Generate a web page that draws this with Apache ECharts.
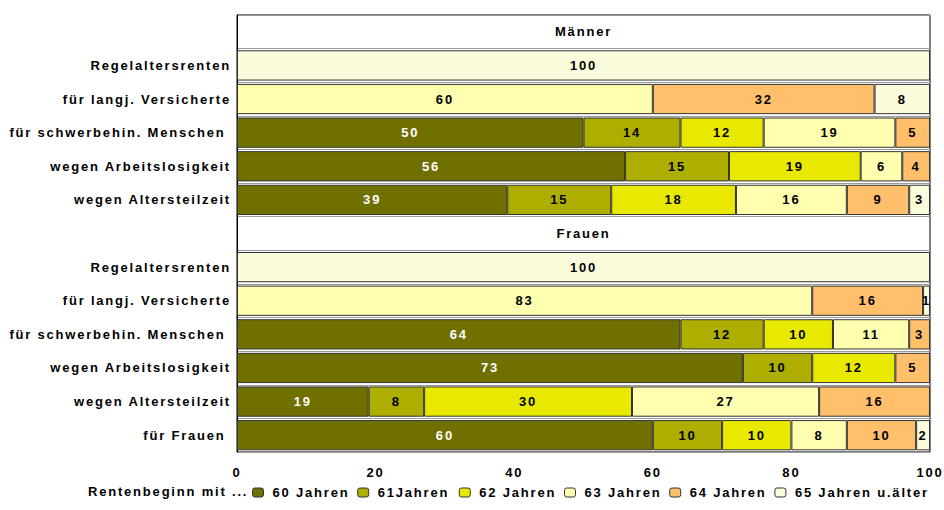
<!DOCTYPE html>
<html><head><meta charset="utf-8">
<script src="https://cdn.jsdelivr.net/npm/echarts@6/dist/echarts.min.js"></script>
<style>html,body{margin:0;padding:0;background:#fff}#c{width:944px;height:510px}#c text{letter-spacing:1.8px}</style>
</head><body><div id="c"></div>
<script>
// rows top to bottom
const categories = ['', 'Regelaltersrenten', 'für langj. Versicherte', 'für schwerbehin. Menschen ', 'wegen Arbeitslosigkeit', 'wegen Altersteilzeit',
  ' ', 'Regelaltersrenten', 'für langj. Versicherte', 'für schwerbehin. Menschen ', 'wegen Arbeitslosigkeit', 'wegen Altersteilzeit', 'für Frauen '];
const headers = ['Männer', '', '', '', '', '', 'Frauen', '', '', '', '', '', ''];
const headerValues = [100, '-', '-', '-', '-', '-', 100, '-', '-', '-', '-', '-', '-'];
const seriesNames = ['60 Jahren', '61Jahren', '62 Jahren', '63 Jahren', '64 Jahren', '65 Jahren u.älter'];
const j60 = ['-', '-', '-', 50, 56, 39, '-', '-', '-', 64, 73, 19, 60];
const j61 = ['-', '-', '-', 14, 15, 15, '-', '-', '-', 12, 10, 8, 10];
const j62 = ['-', '-', '-', 12, 19, 18, '-', '-', '-', 10, 12, 30, 10];
const j63 = ['-', '-', 60, 19, 6, 16, '-', '-', 83, 11, '-', 27, 8];
const j64 = ['-', '-', 32, 5, 4, 9, '-', '-', 16, 3, 5, 16, 10];
const j65 = ['-', 100, 8, '-', '-', 3, '-', 100, 1, '-', '-', '-', 2];
const seriesValues = [j60, j61, j62, j63, j64, j65];
const colors = ['#707000', '#AEAE00', '#E9E900', '#FFFFB0', '#FFBF6B', '#FAFCDC'];
const labelColors = ['#fff', '#000', '#000', '#000', '#000', '#000'];

const font = 'Liberation Sans, Arial, sans-serif';
const chart = echarts.init(document.getElementById('c'), null, {renderer: 'svg'});

const series = seriesValues.map((vals, i) => ({
  name: seriesNames[i], type: 'bar', stack: 'total', data: vals,
  barCategoryGap: '10%',
  itemStyle: {color: colors[i], borderColor: '#333', borderWidth: 1},
  label: {show: true, position: 'inside', color: labelColors[i], fontFamily: font, fontWeight: 'bold', fontSize: 13},
  emphasis: {disabled: true}
}));
series.push({
  name: 'header', type: 'bar', stack: 'total', data: headerValues,
  itemStyle: {color: 'rgba(0,0,0,0)', borderWidth: 0},
  label: {show: true, position: 'inside', color: '#000', fontFamily: font, fontWeight: 'bold', fontSize: 13,
    formatter: p => headers[p.dataIndex]},
  emphasis: {disabled: true}
});

chart.setOption({
  animation: false,
  backgroundColor: '#fff',
  title: {text: 'Rentenbeginn mit ...', left: 88, top: 485, padding: 0,
    textStyle: {fontFamily: font, fontWeight: 'bold', fontSize: 13, color: '#000'}},
  legend: {
    data: seriesNames, left: 252, top: 486, padding: 0,
    itemWidth: 11, itemHeight: 9, itemGap: 24,
    itemStyle: {borderColor: '#333', borderWidth: 1},
    textStyle: {fontFamily: font, fontWeight: 'bold', fontSize: 13, color: '#000', padding: [0, 0, 0, 4]}
  },
  grid: {left: 237, right: 14, top: 15, bottom: 58, show: true, borderColor: '#000', borderWidth: 1, backgroundColor: '#fff'},
  xAxis: {
    type: 'value', min: 0, max: 100, interval: 20,
    axisLine: {show: false}, axisTick: {show: false}, splitLine: {show: false},
    axisLabel: {fontFamily: font, fontWeight: 'bold', fontSize: 13, color: '#000', margin: 14}
  },
  yAxis: {
    type: 'category', inverse: true, data: categories,
    axisTick: {show: false},
    axisLine: {show: true, lineStyle: {color: '#000', width: 1}},
    splitLine: {show: true, lineStyle: {color: '#999', width: 1}},
    axisLabel: {fontFamily: font, fontWeight: 'bold', fontSize: 13, color: '#000', margin: 6}
  },
  series: series
});
</script></body></html>
